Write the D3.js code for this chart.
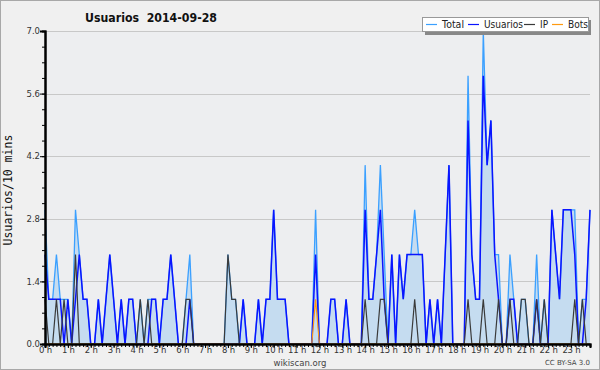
<!DOCTYPE html>
<html>
<head>
<meta charset="utf-8">
<script src="https://cdn.jsdelivr.net/npm/d3@7"></script>
<style>
  body { margin: 0; background: #fff; }
  svg { display: block; font-family: "DejaVu Sans", sans-serif; }
</style>
</head>
<body>
<svg id="chart" width="600" height="370"></svg>
<script>
(function(){

  // data: one value every 10 minutes, 144 slots
  var total = [3,1,1,2,1,1,1,0,3,2,1,1,0,0,1,0,1,2,1,0,1,0,1,1,0,1,0,1,1,1,0,1,1,2,1,0,
               0,1,2,0,0,0,0,0,0,0,0,0,2,1,1,0,1,0,0,0,1,0,1,1,3,1,1,1,0,0,0,0,0,0,0,3,
               0,0,0,1,1,0,0,1,0,0,0,0,4,1,1,2,4,2,0,2,0,2,1,2,2,3,2,2,0,1,0,1,0,2,4,0,
               0,0,0,6,2,1,1,7,4,5,2,2,0,0,2,1,0,1,1,0,0,2,0,1,0,3,2,1,3,3,3,3,0,1,1,3];
  var usuarios = [2,1,1,1,1,0,1,0,1,2,1,1,0,0,1,0,1,2,1,0,1,0,1,1,0,0,0,0,1,1,0,1,1,2,1,0,
                  0,0,1,0,0,0,0,0,0,0,0,0,0,0,0,0,1,0,0,0,1,0,1,1,3,1,1,1,0,0,0,0,0,0,0,2,
                  0,0,0,1,1,0,0,1,0,0,0,0,3,1,1,2,3,1,0,2,0,2,1,2,2,2,2,2,0,1,0,1,0,2,4,0,
                  0,0,0,5,2,1,1,6,4,5,2,1,0,0,1,1,0,0,0,0,0,1,0,0,0,3,2,1,3,3,3,2,0,0,1,3];
  var ip = [1,0,0,1,0,1,0,0,2,0,0,0,0,0,0,0,0,0,0,0,0,0,0,0,0,1,0,1,0,0,0,0,0,0,0,0,
            0,1,1,0,0,0,0,0,0,0,0,0,2,1,1,0,0,0,0,0,0,0,0,0,0,0,0,0,0,0,0,0,0,0,0,0,
            0,0,0,0,0,0,0,0,0,0,0,0,1,0,0,0,1,1,0,0,0,0,0,0,0,1,0,0,0,0,0,0,0,0,0,0,
            0,0,0,1,0,0,0,1,0,0,0,1,0,0,1,0,0,1,1,0,0,1,0,1,0,0,0,0,0,0,0,1,0,1,0,0];
  var bots = [0,0,0,0,0,0,0,0,0,0,0,0,0,0,0,0,0,0,0,0,0,0,0,0,0,0,0,0,0,0,0,0,0,0,0,0,
              0,0,0,0,0,0,0,0,0,0,0,0,0,0,0,0,0,0,0,0,0,0,0,0,0,0,0,0,0,0,0,0,0,0,0,1,
              0,0,0,0,0,0,0,0,0,0,0,0,0,0,0,0,0,0,0,0,0,0,0,0,0,0,0,0,0,0,0,0,0,0,0,0,
              0,0,0,0,0,0,0,0,0,0,0,0,0,0,0,0,0,0,0,0,0,0,0,0,0,0,0,0,0,0,0,0,0,0,0,0];
  var yTicks = [0, 1.4, 2.8, 4.2, 5.6, 7.0];
  var hours = d3.range(24);

  var series = [
    { name: 'Total',    values: total,    color: '#3ba0ff', width: 1.3 },
    { name: 'Usuarios', values: usuarios, color: '#0a14ff', width: 1.5 },
    { name: 'IP',       values: ip,       color: '#3a3a3a', width: 1.2 },
    { name: 'Bots',     values: bots,     color: '#ff9a10', width: 1.2 }
  ];

  var margin = { top: 31, left: 45, right: 10, bottom: 26 },
      width = 600, height = 370;

  var svg = d3.select('#chart');

  // outer frame
  svg.append('rect')
    .attr('x', 0.5).attr('y', 0.5)
    .attr('width', width - 1).attr('height', height - 1)
    .attr('fill', '#f0f0f0')
    .attr('stroke', '#a8a8a8');

  var x = d3.scaleLinear()
    .domain([0, total.length - 1])
    .range([margin.left, width - margin.right]);
  var y = d3.scaleLinear()
    .domain([0, 7])
    .range([height - margin.bottom, margin.top]);

  // plot background
  svg.append('rect')
    .attr('x', x(0)).attr('y', y(7))
    .attr('width', x(total.length - 1) - x(0))
    .attr('height', y(0) - y(7))
    .attr('fill', '#edeef0');

  // grid
  svg.append('g').selectAll('line')
    .data(yTicks.slice(1))
    .enter().append('line')
    .attr('x1', x(0)).attr('x2', x(total.length - 1))
    .attr('y1', function(d) { return Math.round(y(d)) + 0.5; })
    .attr('y2', function(d) { return Math.round(y(d)) + 0.5; })
    .attr('stroke', '#c8c8c8');

  // filled area under total
  svg.append('path')
    .datum(total)
    .attr('fill', '#c5dcf0')
    .attr('d', d3.area()
      .x(function(d, i) { return x(i); })
      .y0(y(0))
      .y1(function(d) { return y(d); }));

  // lines
  series.forEach(function(s) {
    svg.append('path')
      .datum(s.values)
      .attr('fill', 'none')
      .attr('stroke', s.color)
      .attr('stroke-width', s.width)
      .attr('d', d3.line()
        .x(function(d, i) { return x(i); })
        .y(function(d) { return y(d); }));
  });

  // y axis, major + minor ticks
  var yAxis = svg.append('g')
    .attr('transform', 'translate(' + x(0) + ',0)')
    .call(d3.axisLeft(y).tickValues(yTicks).tickSize(5).tickFormat(d3.format('.1f')));
  svg.append('g')
    .attr('transform', 'translate(' + x(0) + ',0)')
    .call(d3.axisLeft(y).tickValues(d3.range(0, 7.01, 0.35)).tickSize(3).tickFormat(''));

  // x axis, hour labels + 10 min ticks
  var xAxis = svg.append('g')
    .attr('transform', 'translate(0,' + y(0) + ')')
    .call(d3.axisBottom(x).tickValues(hours.map(function(h) { return h * 6; }))
      .tickSize(4).tickFormat(function(d) { return (d / 6) + ' h'; }));
  svg.append('g')
    .attr('transform', 'translate(0,' + y(0) + ')')
    .call(d3.axisBottom(x).tickValues(d3.range(0, total.length)).tickSize(3).tickFormat(''));

  svg.selectAll('.domain').attr('stroke', '#000').attr('stroke-width', 2);
  svg.selectAll('.tick line').attr('stroke', '#000');
  svg.selectAll('.tick text')
    .attr('font-family', 'DejaVu Sans').attr('font-size', 8.5).attr('fill', '#333');
  xAxis.selectAll('.tick text').attr('y', 6).attr('dy', '0.3em').attr('letter-spacing', -0.2);
  yAxis.selectAll('.tick text').attr('x', -5);

  // titles
  svg.append('text')
    .attr('x', 85).attr('y', 22)
    .attr('font-size', 12).attr('font-weight', 'bold')
    .attr('fill', '#111')
    .attr('xml:space', 'preserve')
    .attr('textLength', 132).attr('lengthAdjust', 'spacingAndGlyphs')
    .text('Usuarios  2014-09-28');

  svg.append('text')
    .attr('transform', 'translate(12,190) rotate(-90)')
    .attr('text-anchor', 'middle')
    .attr('font-family', 'DejaVu Sans Mono')
    .attr('font-size', 11.5).attr('fill', '#111')
    .text('Usuarios/10 mins');

  svg.append('text')
    .attr('x', 300).attr('y', 366)
    .attr('text-anchor', 'middle')
    .attr('font-size', 8.5).attr('fill', '#444')
    .text('wikiscan.org');

  svg.append('text')
    .attr('x', 590).attr('y', 365)
    .attr('text-anchor', 'end')
    .attr('font-size', 7).attr('fill', '#444')
    .text('CC BY-SA 3.0');

  // legend
  var legend = svg.append('g');
  legend.append('rect')
    .attr('x', 425).attr('y', 20).attr('width', 166).attr('height', 15)
    .attr('fill', '#888');
  legend.append('rect')
    .attr('x', 422.5).attr('y', 17.5).attr('width', 166).attr('height', 14)
    .attr('fill', '#fff').attr('stroke', '#999');

  var legendPos = [426, 468, 524, 552],
      legendTextLen = [22, 39, 8, 20];
  var item = legend.selectAll('g.item')
    .data(series)
    .enter().append('g')
    .attr('transform', function(d, i) { return 'translate(' + legendPos[i] + ',24.5)'; });
  item.append('line')
    .attr('x1', 0).attr('x2', 11)
    .attr('stroke', function(d) { return d.color; })
    .attr('stroke-width', 1.2);
  item.append('text')
    .attr('x', 16).attr('y', 3.5)
    .attr('font-size', 10).attr('fill', '#222')
    .attr('textLength', function(d, i) { return legendTextLen[i]; })
    .attr('lengthAdjust', 'spacingAndGlyphs')
    .text(function(d) { return d.name; });

})();
</script>
</body>
</html>
